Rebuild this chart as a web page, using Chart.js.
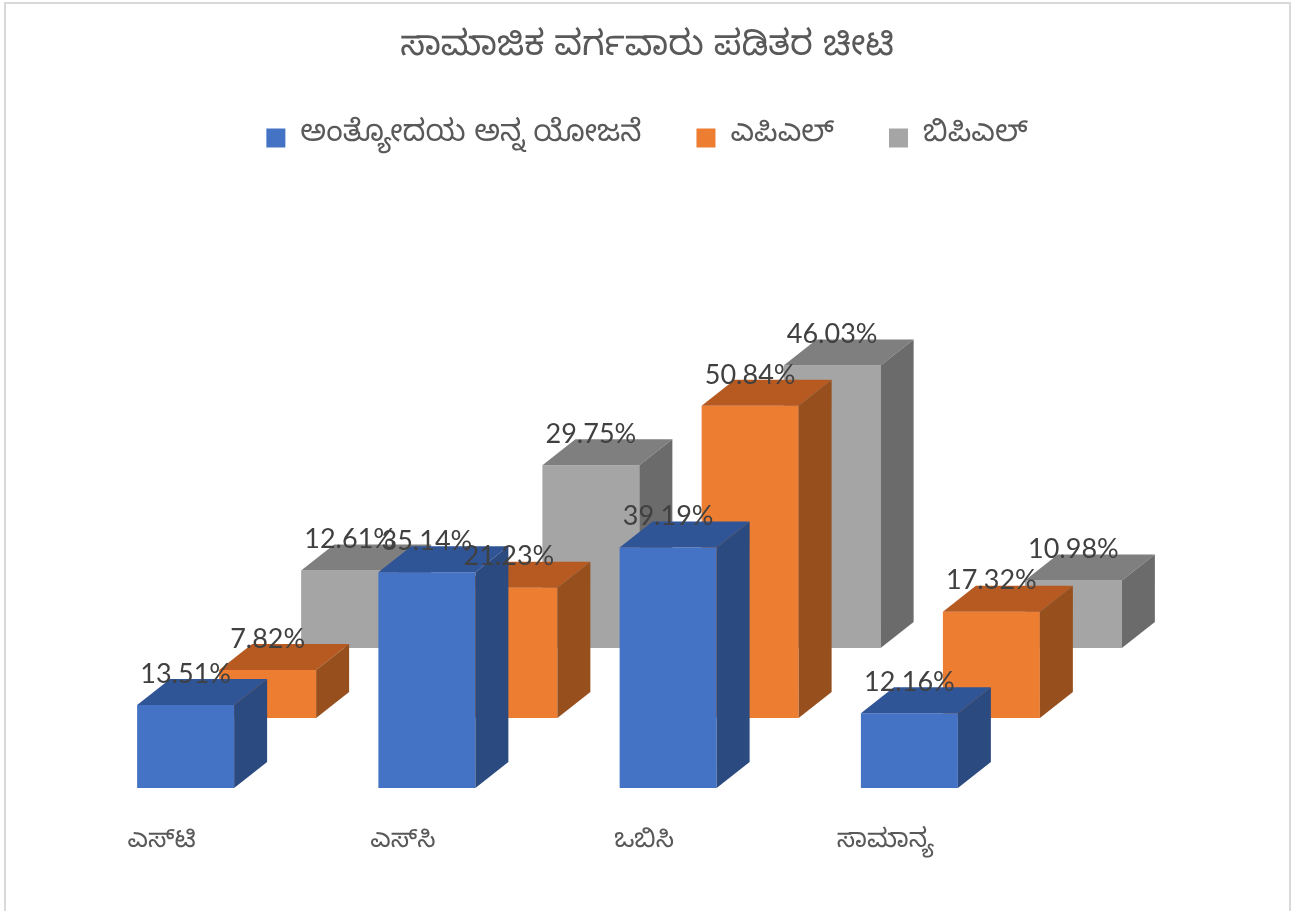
<!DOCTYPE html>
<html>
<head>
<meta charset="utf-8">
<script src="https://cdn.jsdelivr.net/npm/chart.js@4.4.1/dist/chart.umd.min.js"></script>
<style>
  html, body { margin: 0; padding: 0; background: #fff; }
  #chart { display: block; }
</style>
</head>
<body>
<canvas id="chart" width="1308" height="911"></canvas>
<script>
// chart data
const categories = ["ಎಸ್‌ಟಿ", "ಎಸ್‌ಸಿ", "ಒಬಿಸಿ", "ಸಾಮಾನ್ಯ"];
const seriesNames = ["ಅಂತ್ಯೋದಯ ಅನ್ನ ಯೋಜನೆ", "ಎಪಿಎಲ್", "ಬಿಪಿಎಲ್"];
const antyodaya = [13.51, 35.14, 39.19, 12.16];
const apl = [7.82, 21.23, 50.84, 17.32];
const bpl = [12.61, 29.75, 46.03, 10.98];
const chartTitle = "ಸಾಮಾಜಿಕ ವರ್ಗವಾರು ಪಡಿತರ ಚೀಟಿ";

const knFont = "'Noto Sans Kannada', 'Noto Sans', sans-serif";
const numFont = "Lato, 'Liberation Sans', sans-serif";

// front / top / side colours for each series
const faces = [
  { front: "#4472c4", top: "#2f5597", side: "#2a4a80" },
  { front: "#ed7d31", top: "#b65a22", side: "#974f1e" },
  { front: "#a5a5a5", top: "#7f7f7f", side: "#6b6b6b" },
];

// fake 3d: each series row sits further back, bars get a top and a side face
const depthX = 33, depthY = 26;
const rowX = 82, rowY = 70;

const bar3d = {
  id: "bar3d",
  beforeDraw(chart) {
    const ctx = chart.ctx;
    ctx.save();
    ctx.fillStyle = "#fff";
    ctx.fillRect(0, 0, chart.width, chart.height);
    ctx.strokeStyle = "#d9d9d9";
    ctx.lineWidth = 2;
    ctx.strokeRect(5, 3, 1285, 915);
    ctx.restore();
  },
  beforeDatasetDraw(chart, args) {
    const ctx = chart.ctx;
    ctx.save();
    ctx.translate(rowX * args.index, -rowY * args.index);
  },
  afterDatasetDraw(chart, args) {
    const ctx = chart.ctx;
    const f = faces[args.index];
    args.meta.data.forEach(function (bar) {
      const p = bar.getProps(["x", "y", "base", "width"], true);
      const l = p.x - p.width / 2, r = p.x + p.width / 2;
      ctx.fillStyle = f.top;
      ctx.beginPath();
      ctx.moveTo(l, p.y);
      ctx.lineTo(l + depthX, p.y - depthY);
      ctx.lineTo(r + depthX, p.y - depthY);
      ctx.lineTo(r, p.y);
      ctx.closePath();
      ctx.fill();
      ctx.fillStyle = f.side;
      ctx.beginPath();
      ctx.moveTo(r, p.y);
      ctx.lineTo(r + depthX, p.y - depthY);
      ctx.lineTo(r + depthX, p.base - depthY);
      ctx.lineTo(r, p.base);
      ctx.closePath();
      ctx.fill();
    });
    ctx.restore();
  },
  afterDatasetsDraw(chart) {
    // value labels go on top of everything
    const ctx = chart.ctx;
    ctx.save();
    ctx.font = "27px " + numFont;
    ctx.fillStyle = "#404040";
    ctx.textAlign = "center";
    ctx.textBaseline = "middle";
    chart.data.datasets.forEach(function (ds, i) {
      chart.getDatasetMeta(i).data.forEach(function (bar, j) {
        ctx.fillText(ds.data[j].toFixed(2) + "%", bar.x + rowX * i, bar.y - rowY * i - 31);
      });
    });
    ctx.restore();
  },
};

const ctx = document.getElementById("chart").getContext("2d");
new Chart(ctx, {
  type: "bar",
  data: {
    labels: categories,
    datasets: [antyodaya, apl, bpl].map(function (data, i) {
      return {
        label: seriesNames[i],
        data,
        backgroundColor: faces[i].front,
        borderWidth: 0,
        grouped: false,
        barPercentage: 0.402,
        categoryPercentage: 1,
        clip: false,
      };
    }),
  },
  options: {
    responsive: false,
    animation: false,
    events: [],
    layout: { padding: { left: 0, right: 14, top: 0, bottom: 0 } },
    plugins: {
      title: {
        display: true,
        text: chartTitle,
        color: "#595959",
        font: { size: 35, weight: "normal", family: knFont, lineHeight: "32px" },
        padding: { top: 36, bottom: 0 },
      },
      legend: {
        position: "top",
        labels: {
          boxWidth: 19,
          boxHeight: 19,
          padding: 55,
          color: "#595959",
          font: { size: 30, family: knFont },
        },
      },
      tooltip: { enabled: false },
    },
    scales: {
      x: {
        grid: { display: false, drawTicks: false },
        border: { display: false },
        ticks: {
          color: "#595959",
          padding: 41,
          labelOffset: -24,
          font: { size: 26, family: knFont },
        },
        afterFit: function (s) { s.height = 123; },
      },
      y: {
        min: 0,
        max: 101.8,
        grid: { display: false },
        border: { display: false },
        ticks: { display: false },
        afterFit: function (s) { s.width = 65; },
      },
      yr: {
        type: "linear",
        position: "right",
        grid: { display: false },
        border: { display: false },
        ticks: { display: false },
        afterFit: function (s) { s.width = 264; },
      },
    },
  },
  plugins: [bar3d],
});
</script>
</body>
</html>
